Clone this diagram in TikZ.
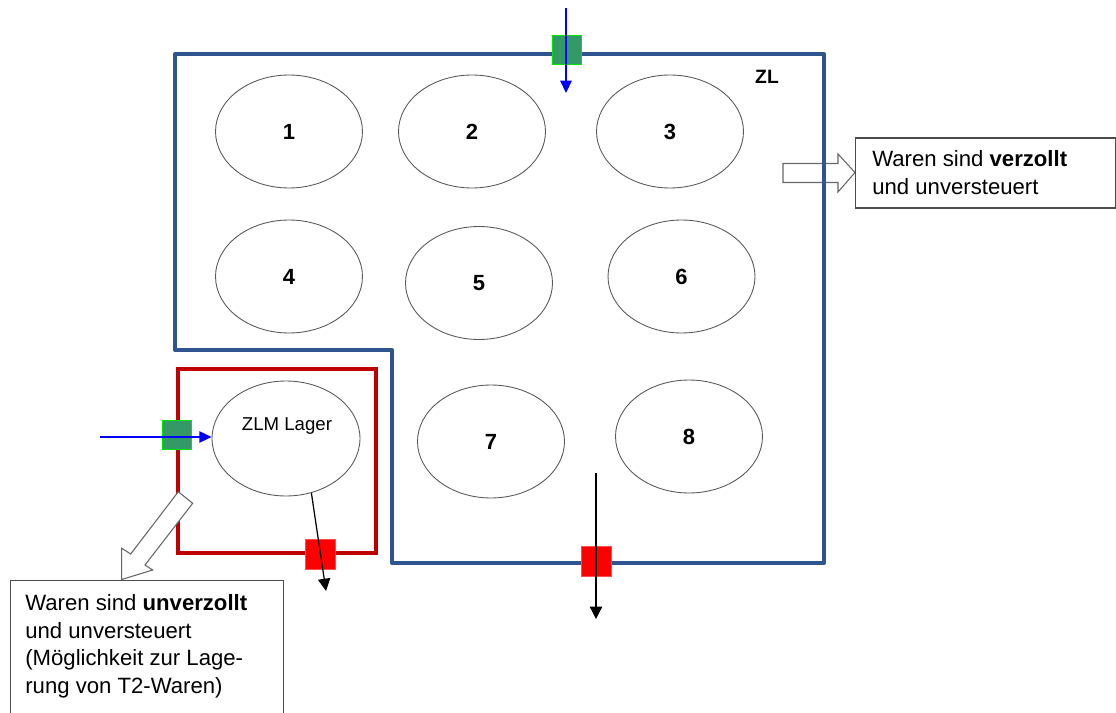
\documentclass[tikz,border=0pt]{standalone}
\usepackage{fontspec}
\setmainfont{Liberation Sans}
\usetikzlibrary{arrows.meta, shapes.geometric}
\definecolor{zlblue}{RGB}{47,84,143}
\definecolor{zlmred}{RGB}{192,0,0}
\definecolor{gatefill}{RGB}{51,153,102}
\definecolor{gateline}{RGB}{0,230,0}
\tikzset{
  lager/.style={ellipse, draw=black!65, line width=0.5pt, minimum width=2.94cm,
    minimum height=2.26cm, inner sep=0pt, font=\fontsize{12.5}{14}\selectfont\bfseries},
  gate/.style={draw=gateline, fill=gatefill, line width=0.6pt, minimum size=0.58cm, inner sep=0pt},
  exitgate/.style={draw=red!70, fill=red, line width=0.4pt, minimum size=0.6cm, inner sep=0pt},
  infobox/.style={draw=black!70, line width=0.6pt, inner sep=0pt},
  infotext/.style={font=\fontsize{12.6}{15.8}\selectfont, align=left, inner sep=0pt},
  inflow/.style={blue, line width=0.9pt, -{Triangle[length=7pt,width=6.5pt]}},
  outflow/.style={black, line width=0.7pt, -{Triangle[length=7pt,width=7pt]}},
  blockarrow/.style={draw=black!60, fill=white, line width=0.6pt, line join=miter}
}
\begin{document}
\begin{tikzpicture}[x=0.02cm, y=-0.02cm]
\useasboundingbox (0,0) rectangle (1116,713);
\clip (0,0) rectangle (1116,713);

% ausgang rechts (unter der linie)
\draw[blockarrow] (783,163.5) -- (838,163.5) -- (838,154) -- (855,172.5)
  -- (838,192) -- (838,182.5) -- (783,182.5) -- cycle;

% zolllager und zlm
\draw[zlblue, line width=2.3pt, line join=round] (175,54) -- (824,54) -- (824,563)
  -- (392,563) -- (392,350) -- (175,350) -- cycle;
\draw[zlmred, line width=2.3pt] (178,369) rectangle (376,553);
\node[font=\fontsize{11}{12}\selectfont\bfseries] (zl) at (767,77) {ZL};

\node[lager] (e1) at (289,131.5) {1};
\node[lager] (e2) at (472,131.5) {2};
\node[lager] (e3) at (670,131.5) {3};
\node[lager] (e4) at (289,276.5) {4};
\node[lager] (e5) at (479,283) {5};
\node[lager] (e6) at (681.5,276.5) {6};
\node[lager] (e7) at (491,441.5) {7};
\node[lager] (e8) at (689,436.5) {8};
\node[lager, minimum width=2.96cm, minimum height=2.3cm] (zlm) at (286,438.5) {};
\node[font=\fontsize{10.6}{12}\selectfont] (zlmtext) at (287,426) {ZLM Lager};

% ausgang links unten
\draw[blockarrow] (178.3,491.7) -- (192.7,503.3) -- (145,565) -- (152.7,570)
  -- (121.7,579.5) -- (121.7,548.3) -- (130.7,554) -- cycle;

\node[gate] (gtop) at (567,50) {};
\node[gate] (gleft) at (177,435) {};
\node[exitgate] (xzlm) at (320,554) {};
\node[exitgate] (xzl) at (596,561) {};

\coordinate (topin) at (566,8);
\coordinate (topend) at (566,93);
\coordinate (leftin) at (100,437);
\coordinate (zlmout) at (326,591);
\coordinate (zlstart) at (596,473);
\coordinate (zlout) at (596,619);
\draw[inflow] (topin) -- (topend);
\draw[inflow] (leftin) -- (leftin -| zlm.west);
\draw[outflow] (zlm.-65) -- (zlmout);
\draw[outflow] (zlstart) -- (zlout);

\node[infobox, anchor=north west, minimum width=5.2cm, minimum height=1.4cm] (rbox) at (855,137.5) {};
\node[infotext, anchor=west] (rtext) at (872,172.5) {Waren sind \textbf{verzollt}\\und unversteuert};
\node[infobox, anchor=north west, minimum width=5.46cm, minimum height=3cm] (lbox) at (10,580) {};
\node[infotext, anchor=north west] (ltext) at (25,594)
  {Waren sind \textbf{unverzollt}\\und unversteuert\\(Möglichkeit zur Lage-\\rung von T2-Waren)};
\end{tikzpicture}
\end{document}
